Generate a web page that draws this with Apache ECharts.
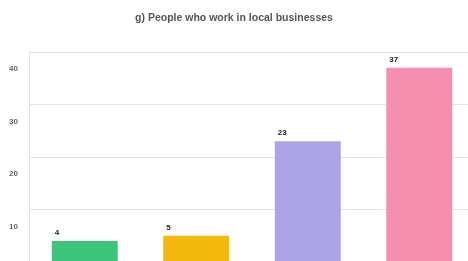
<!DOCTYPE html>
<html>
<head>
<meta charset="utf-8">
<script src="https://cdn.jsdelivr.net/npm/echarts@6/dist/echarts.min.js"></script>
<style>
  html, body { margin: 0; padding: 0; background: #fff; }
  #chart { width: 468px; height: 261px; }
</style>
</head>
<body>
<div id="chart"></div>
<script>
const categories = ["A", "B", "C", "D"];
const values = [4, 5, 23, 37];
const barColors = ["#3fc47d", "#f5b80f", "#ada4e6", "#f48fb0"];

const fontColor = "#666";

const chart = echarts.init(document.getElementById("chart"));

chart.setOption({
  animation: false,
  title: {
    text: "g) People who work in local businesses",
    left: "center",
    top: 8,
    textStyle: {
      fontFamily: "Liberation Sans",
      fontSize: 10.5,
      fontWeight: "bold",
      color: "#555",
    },
  },
  grid: {
    left: 29,
    right: -7,
    top: 52,
    bottom: -1,
    containLabel: false,
    outerBoundsMode: "none",
  },
  xAxis: {
    type: "category",
    data: categories,
    axisLine: { show: false },
    axisTick: { show: false },
    axisLabel: { show: false },
  },
  yAxis: {
    type: "value",
    min: 0,
    max: 40,
    interval: 10,
    axisLine: {
      show: true,
      lineStyle: { color: "#e2e6ec" },
    },
    axisTick: { show: false },
    splitLine: {
      show: true,
      lineStyle: { color: "#e4e4e4" },
    },
    axisLabel: {
      color: fontColor,
      fontFamily: "Liberation Sans",
      fontSize: 8,
      fontWeight: "bold",
      margin: 11,
      verticalAlign: "top",
      padding: [13, 0, 0, 0],
    },
  },
  series: [
    {
      type: "bar",
      barWidth: 66,
      data: values.map((v, i) => ({
        value: v,
        itemStyle: { color: barColors[i] },
      })),
      label: {
        show: true,
        position: [3, -12],
        align: "left",
        verticalAlign: "top",
        color: "#222",
        fontFamily: "Liberation Sans",
        fontSize: 8,
        fontWeight: "bold",
      },
    },
  ],
});
</script>
</body>
</html>
